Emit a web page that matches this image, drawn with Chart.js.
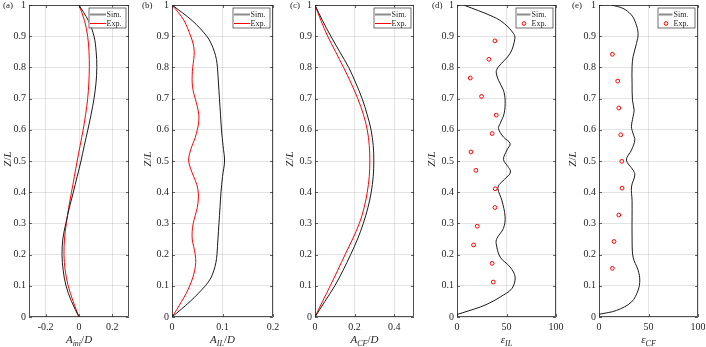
<!DOCTYPE html>
<html><head><meta charset="utf-8">
<script src="https://cdn.jsdelivr.net/npm/chart.js@4.4.1/dist/chart.umd.min.js"></script>
<style>
html,body{margin:0;padding:0;background:#fff;}
#wrap{position:relative;width:706px;height:347px;background:#fff;}
canvas{position:absolute;left:0;top:0;}
</style></head><body><div id="wrap">
<canvas id="c0" width="706" height="347"></canvas>
<canvas id="c1" width="706" height="347"></canvas>
<canvas id="c2" width="706" height="347"></canvas>
<canvas id="c3" width="706" height="347"></canvas>
<canvas id="c4" width="706" height="347"></canvas>
</div>
<script>
// ---------- tick values / labels ----------
const zTicks = [0,0.1,0.2,0.3,0.4,0.5,0.6,0.7,0.8,0.9,1];
const zTickLabels = ['0','0.1','0.2','0.3','0.4','0.5','0.6','0.7','0.8','0.9','1'];
const xTicksIni = [-0.2,0,0.2];   const xTickLabelsIni = ['-0.2','0','0.2'];
const xTicksIL = [0,0.1,0.2];     const xTickLabelsIL = ['0','0.1','0.2'];
const xTicksCF = [0,0.2,0.4];     const xTickLabelsCF = ['0','0.2','0.4'];
const xTicksEps = [0,50,100];     const xTickLabelsEps = ['0','50','100'];

// ---------- (a) A_ini/D ----------
const zIni = [0,0.05,0.1,0.15,0.2,0.25,0.3,0.35,0.4,0.45,0.5,0.55,0.6,0.65,0.7,0.75,0.8,0.85,0.9,0.95,1];
const simIni = [0,-0.045,-0.078,-0.095,-0.102,-0.097,-0.079,-0.058,-0.034,-0.011,0.012,0.032,0.053,0.073,0.09,0.102,0.107,0.103,0.09,0.056,0];
const expIni = [0,-0.035,-0.065,-0.083,-0.09,-0.087,-0.076,-0.062,-0.045,-0.028,-0.011,0.007,0.025,0.04,0.052,0.059,0.062,0.06,0.052,0.033,0];

// ---------- (b) A_IL/D ----------
const zSimIL = [0,0.05,0.1,0.125,0.15,0.175,0.2,0.25,0.3,0.35,0.4,0.45,0.5,0.55,0.6,0.65,0.7,0.75,0.8,0.825,0.85,0.875,0.9,0.95,1];
const simIL = [0,0.036,0.066,0.077,0.083,0.087,0.089,0.091,0.093,0.095,0.097,0.1,0.104,0.101,0.098,0.096,0.094,0.092,0.09,0.088,0.084,0.078,0.069,0.04,0];
const zExpIL = [0,0.025,0.05,0.075,0.1,0.125,0.15,0.175,0.2,0.225,0.25,0.275,0.3,0.325,0.35,0.375,0.4,0.425,0.45,0.475,0.5,0.525,0.55,0.575,0.6,0.625,0.65,0.675,0.7,0.725,0.75,0.775,0.8,0.825,0.85,0.875,0.9,0.925,0.95,0.975,1];
const expIL = [0,0.01,0.019,0.028,0.035,0.041,0.045,0.047,0.046,0.043,0.04,0.04,0.042,0.046,0.05,0.052,0.052,0.049,0.043,0.037,0.033,0.035,0.04,0.046,0.05,0.053,0.053,0.05,0.046,0.042,0.04,0.04,0.041,0.043,0.044,0.042,0.037,0.031,0.024,0.013,0];

// ---------- (c) A_CF/D ----------
const zCF = [0,0.05,0.1,0.15,0.2,0.25,0.3,0.35,0.4,0.45,0.5,0.55,0.6,0.65,0.7,0.75,0.8,0.85,0.9,0.95,1];
const simCF = [0,0.05,0.1,0.142,0.18,0.215,0.244,0.267,0.284,0.294,0.297,0.294,0.283,0.263,0.238,0.206,0.17,0.125,0.08,0.038,0];
const expCF = [0,0.038,0.077,0.115,0.152,0.19,0.224,0.248,0.264,0.274,0.277,0.274,0.264,0.244,0.216,0.182,0.144,0.104,0.064,0.03,0];

// ---------- (d) eps_IL ----------
const zSimEpsIL = [0.008,0.02,0.032,0.045,0.064,0.091,0.128,0.16,0.192,0.235,0.252,0.284,0.321,0.374,0.412,0.428,0.455,0.468,0.482,0.505,0.535,0.556,0.577,0.604,0.62,0.652,0.695,0.727,0.759,0.786,0.802,0.845,0.893,0.909,0.94,0.962,1.0];
const simEpsIL = [0,12,23.5,33,43.6,55.4,58.7,53.7,43.6,39.6,40.3,46.9,48.6,45.3,41.3,43.6,52.5,54,51.5,47,50.4,53.7,46.9,41.9,43.6,47.6,48.6,46.9,41.9,39.6,41.9,53.7,58.5,57,48,36.9,6.7];
const zExpEpsIL = [0.112,0.172,0.231,0.291,0.351,0.411,0.47,0.529,0.588,0.647,0.707,0.766,0.826,0.885];
const expEpsIL = [36.6,35.5,16.7,20.4,38.3,38.6,19.1,14.1,35.5,39.6,24.8,13.4,32.2,38.3];

// ---------- (e) eps_CF ----------
const zSimEpsCF = [0.009,0.021,0.048,0.086,0.118,0.15,0.192,0.257,0.321,0.374,0.417,0.455,0.471,0.503,0.535,0.567,0.588,0.61,0.642,0.663,0.695,0.749,0.802,0.834,0.877,0.909,0.941,0.968,0.989,1.0];
const simEpsCF = [0.7,17.6,32.8,39.5,41.2,39.5,34.4,33.4,33.4,33.4,32.8,36.2,34.4,27.7,32.8,36.2,34.4,32.8,34.4,35.5,33.8,33.4,33.4,34.4,37.9,39.5,37.2,32.8,24.3,12.6];
const zExpEpsCF = [0.156,0.242,0.327,0.413,0.499,0.584,0.67,0.756,0.842];
const expEpsCF = [13.5,15.2,20,23.3,23,22,20,18.9,13.5];

const pts = (z, v) => z.map((zz, i) => ({x: v[i], y: zz}));

const FONT = '"Liberation Serif", "DejaVu Serif", serif';
const TXT = '#262626';

const panels = [
  {id:'c0', tag:'(a)', L:29, R:129, xmin:-0.3, xmax:0.3, xt:xTicksIni, xl:xTickLabelsIni,
   title:[['A','i'],['ini','s'],['/','r'],['D','i']], sim:pts(zIni,simIni), exp:pts(zIni,expIni), markers:false, tagDx:-26, yTitleDx:-22},
  {id:'c1', tag:'(b)', L:172, R:273, xmin:0, xmax:0.2, xt:xTicksIL, xl:xTickLabelsIL,
   title:[['A','i'],['IL','s'],['/','r'],['D','i']], sim:pts(zSimIL,simIL), exp:pts(zExpIL,expIL), markers:false, tagDx:-30, yTitleDx:-25},
  {id:'c2', tag:'(c)', L:315, R:414, xmin:0, xmax:0.5, xt:xTicksCF, xl:xTickLabelsCF,
   title:[['A','i'],['CF','s'],['/','r'],['D','i']], sim:pts(zCF,simCF), exp:pts(zCF,expCF), markers:false, tagDx:-25, yTitleDx:-26},
  {id:'c3', tag:'(d)', L:457, R:556, xmin:0, xmax:100, xt:xTicksEps, xl:xTickLabelsEps,
   title:[['\u03B5','i'],['IL','s']], sim:pts(zSimEpsIL,simEpsIL), exp:pts(zExpEpsIL,expEpsIL), markers:true, tagDx:-25, yTitleDx:-26.5},
  {id:'c4', tag:'(e)', L:599, R:698, xmin:0, xmax:100, xt:xTicksEps, xl:xTickLabelsEps,
   title:[['\u03B5','i'],['CF','s']], sim:pts(zSimEpsCF,simEpsCF), exp:pts(zExpEpsCF,expEpsCF), markers:true, tagDx:-27, yTitleDx:-27},
];

const TOP = 5, BOTTOM = 317, W = 706, H = 347, YW = 29;

function drawMath(ctx, parts, cx, cy, rotate) {
  const main = 11, sub = 8;
  let w = 0;
  const fs = parts.map(p => {
    const f = (p[1] === 'r' ? '' : 'italic ') + (p[1] === 's' ? sub : main) + 'px ' + FONT;
    ctx.font = f;
    const mw = ctx.measureText(p[0]).width;
    w += mw;
    return {f, mw};
  });
  ctx.save();
  ctx.translate(cx, cy);
  if (rotate) ctx.rotate(-Math.PI / 2);
  ctx.fillStyle = TXT;
  ctx.textBaseline = 'alphabetic';
  ctx.textAlign = 'left';
  let x = -w / 2;
  parts.forEach((p, i) => {
    ctx.font = fs[i].f;
    ctx.fillText(p[0], x, p[1] === 's' ? 6.5 : 4);
    x += fs[i].mw;
  });
  ctx.restore();
}

const decor = {
  id: 'decor',
  afterDraw(chart) {
    const P = chart.options.plugins.decor;
    const ctx = chart.ctx, a = chart.chartArea;
    const xs = chart.scales.x, ys = chart.scales.y;
    ctx.save();
    // inward ticks
    ctx.strokeStyle = TXT;
    ctx.lineWidth = 0.7;
    ctx.beginPath();
    xs.ticks.forEach(t => {
      const px = Math.round(xs.getPixelForValue(t.value)) + 0.5;
      ctx.moveTo(px, a.bottom); ctx.lineTo(px, a.bottom - 3);
      ctx.moveTo(px, a.top); ctx.lineTo(px, a.top + 3);
    });
    ys.ticks.forEach(t => {
      const py = Math.round(ys.getPixelForValue(t.value)) + 0.5;
      ctx.moveTo(a.left, py); ctx.lineTo(a.left + 3, py);
      ctx.moveTo(a.right, py); ctx.lineTo(a.right - 3, py);
    });
    ctx.stroke();
    // box
    ctx.lineWidth = 0.8;
    ctx.strokeRect(a.left + 0.5, a.top + 0.5, a.right - a.left - 1, a.bottom - a.top - 1);

    // legend
    const bw = 37, bh = 20;
    const bx = a.right - 3.5 - bw, by = a.top + 2.5;
    ctx.fillStyle = '#fff';
    ctx.fillRect(bx, by, bw, bh);
    ctx.strokeStyle = '#333';
    ctx.lineWidth = 0.7;
    ctx.strokeRect(bx + 0.5, by + 0.5, bw, bh);
    const r1 = by + 7, r2 = by + 16;
    ctx.font = '8px ' + FONT;
    ctx.textBaseline = 'middle';
    ctx.textAlign = 'left';
    ctx.fillStyle = TXT;
    if (!P.markers) {
      ctx.strokeStyle = '#8a8a8a'; ctx.lineWidth = 2;
      ctx.beginPath(); ctx.moveTo(bx + 1.5, r1); ctx.lineTo(bx + 17.5, r1); ctx.stroke();
      ctx.strokeStyle = '#ff0000'; ctx.lineWidth = 1;
      ctx.beginPath(); ctx.moveTo(bx + 1.5, r2); ctx.lineTo(bx + 17.5, r2); ctx.stroke();
      ctx.fillText('Sim.', bx + 18, r1);
      ctx.fillText('Exp.', bx + 18, r2);
    } else {
      ctx.strokeStyle = '#8a8a8a'; ctx.lineWidth = 2;
      ctx.beginPath(); ctx.moveTo(bx + 1.5, r1); ctx.lineTo(bx + 15, r1); ctx.stroke();
      ctx.strokeStyle = '#ff0000'; ctx.lineWidth = 1;
      ctx.beginPath(); ctx.arc(bx + 8.5, r2, 1.8, 0, Math.PI * 2); ctx.stroke();
      ctx.fillText('Sim.', bx + 16, r1);
      ctx.fillText('Exp.', bx + 16, r2);
    }
    // axis titles
    drawMath(ctx, P.title, (a.left + a.right) / 2, 339, false);
    drawMath(ctx, [['Z','i'],['/','r'],['L','i']], a.left + P.yTitleDx, 159, true);
    // panel tag
    ctx.font = '9px ' + FONT;
    ctx.fillStyle = TXT;
    ctx.textBaseline = 'middle';
    ctx.textAlign = 'left';
    ctx.fillText(P.tag, a.left + P.tagDx, 6);
    ctx.restore();
  }
};

panels.forEach(p => {
  const ds = [{
    data: p.sim, showLine: true, borderColor: '#1a1a1a', borderWidth: 1,
    pointRadius: 0, tension: 0.35, fill: false
  }];
  if (p.markers) {
    ds.push({data: p.exp, showLine: false, pointRadius: 1.9, pointBorderWidth: 1,
      pointBorderColor: '#ff0000', pointBackgroundColor: 'rgba(0,0,0,0)', pointStyle: 'circle'});
  } else {
    ds.push({data: p.exp, showLine: true, borderColor: '#ff0000', borderWidth: 1,
      pointRadius: 0, tension: 0.35, fill: false});
  }
  const xt = p.xt, xl = p.xl;
  new Chart(document.getElementById(p.id), {
    type: 'scatter',
    data: {datasets: ds},
    options: {
      responsive: false, animation: false, devicePixelRatio: 1,
      layout: {padding: {left: p.L - YW, right: W - p.R, top: TOP, bottom: 0}},
      plugins: {legend: {display: false}, tooltip: {enabled: false},
        decor: {title: p.title, tag: p.tag, markers: p.markers, tagDx: p.tagDx, yTitleDx: p.yTitleDx}},
      scales: {
        x: {
          type: 'linear', min: p.xmin, max: p.xmax,
          afterBuildTicks: s => { s.ticks = xt.map(v => ({value: v})); },
          afterFit: s => { s.height = H - BOTTOM; s.paddingLeft = 0; s.paddingRight = 0; },
          ticks: {autoSkip: false, maxRotation: 0, padding: 4, color: TXT,
            font: {family: FONT, size: 10}, callback: (v, i) => xl[i]},
          grid: {color: 'rgba(38,38,38,0.13)', lineWidth: 1, drawTicks: false},
          border: {display: false}
        },
        y: {
          type: 'linear', min: 0, max: 1,
          afterBuildTicks: s => { s.ticks = zTicks.map(v => ({value: v})); },
          afterFit: s => { s.width = YW; s.paddingTop = 0; s.paddingBottom = 0; },
          ticks: {autoSkip: false, padding: 3, color: TXT,
            font: {family: FONT, size: 10}, callback: (v, i) => zTickLabels[i]},
          grid: {color: 'rgba(38,38,38,0.13)', lineWidth: 1, drawTicks: false},
          border: {display: false}
        }
      }
    },
    plugins: [decor]
  });
});
</script>
</body></html>
